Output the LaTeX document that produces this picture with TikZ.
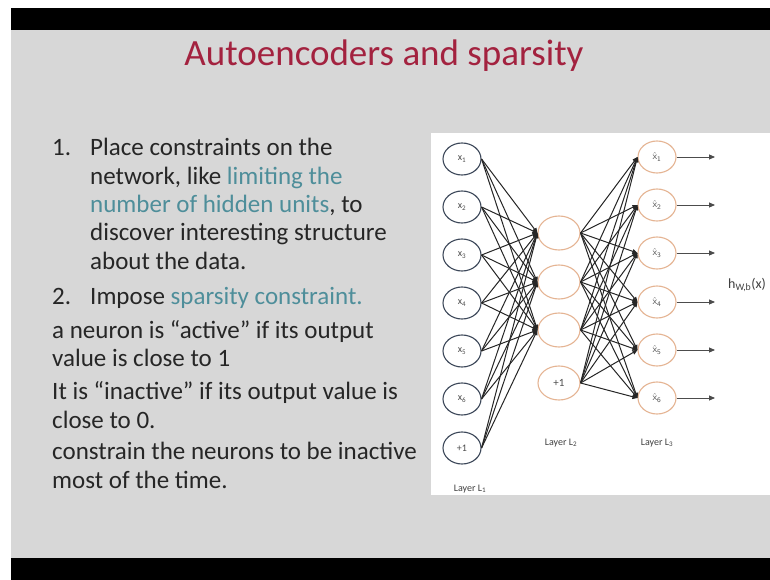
\documentclass[tikz,border=0pt]{standalone}
\usepackage{fontspec}
\setmainfont{Carlito}
\usetikzlibrary{arrows.meta,shapes.geometric}
\definecolor{slidegray}{HTML}{D7D7D7}
\definecolor{titlered}{HTML}{A3223F}
\definecolor{hlteal}{HTML}{4E8E9A}
\definecolor{bodytext}{HTML}{262626}
\definecolor{inblue}{HTML}{3C4759}
\definecolor{outorange}{HTML}{E5B493}
\tikzset{
  bodyline/.style={anchor=base west, inner sep=0pt, text=bodytext, font=\fontsize{25}{28}\selectfont},
  inode/.style={ellipse, draw=inblue, line width=1.1pt, minimum width=38pt, minimum height=32pt, inner sep=0pt, fill=white, font=\fontsize{10}{12}\selectfont, text=black!70},
  hnode/.style={ellipse, draw=outorange, line width=1.1pt, minimum width=42pt, minimum height=34pt, inner sep=0pt, fill=white, font=\fontsize{11}{12}\selectfont, text=black!70},
  onode/.style={ellipse, draw=outorange, line width=1.1pt, minimum width=38pt, minimum height=32pt, inner sep=0pt, fill=white, font=\fontsize{10}{12}\selectfont, text=black!70},
  conn/.style={draw=black!85, line width=1pt, -{Triangle[length=5pt,width=4.5pt]}},
  outarrow/.style={draw=black!70, line width=0.9pt, -{Triangle[length=6pt,width=5pt]}},
  layerlabel/.style={inner sep=0pt, font=\fontsize{10}{12}\selectfont, text=black!75}
}
\newcommand{\xhat}[1]{\(\hat{\mathsf{x}}_{\mathsf{#1}}\)}
\begin{document}
\begin{tikzpicture}[x=1pt,y=-1pt]
\useasboundingbox (0,0) rectangle (770,580);
\fill[white] (0,0) rectangle (770,580);
\fill[black] (11,8) rectangle (770,30);
\fill[slidegray] (11,30) rectangle (770,558);
\fill[black] (11,558) rectangle (770,580);
\fill[white] (431,133) rectangle (770,495);

% title
\node[anchor=base, inner sep=0pt, text=titlered, font=\fontsize{37}{40}\selectfont] (title) at (384,66) {Autoencoders and sparsity};

% body text
\node[bodyline] (n1) at (52,156) {1.};
\node[bodyline] (l1) at (90,156) {Place constraints on the};
\node[bodyline] (l2) at (90,184) {network, like \textcolor{hlteal}{limiting the}};
\node[bodyline] (l3) at (90,212) {\textcolor{hlteal}{number of hidden units}, to};
\node[bodyline] (l4) at (90,240) {discover interesting structure};
\node[bodyline] (l5) at (90,269) {about the data.};
\node[bodyline] (n2) at (52,304) {2.};
\node[bodyline] (l6) at (90,304) {Impose \textcolor{hlteal}{sparsity constraint.}};
\node[bodyline] (l7) at (52,338) {a neuron is “active” if its output};
\node[bodyline] (l8) at (52,366) {value is close to 1};
\node[bodyline] (l9) at (52,399) {It is “inactive” if its output value is};
\node[bodyline] (l10) at (52,428) {close to 0.};
\node[bodyline] (l11) at (52,459) {constrain the neurons to be inactive};
\node[bodyline] (l12) at (52,488) {most of the time.};

% layer 1
\node[inode] (a1) at (462,159) {x\textsubscript{1}};
\node[inode] (a2) at (462,207) {x\textsubscript{2}};
\node[inode] (a3) at (462,255) {x\textsubscript{3}};
\node[inode] (a4) at (462,303) {x\textsubscript{4}};
\node[inode] (a5) at (462,351) {x\textsubscript{5}};
\node[inode] (a6) at (462,399) {x\textsubscript{6}};
\node[inode] (a7) at (462,448) {+1};

% layer 2
\node[hnode] (h1) at (559,233) {};
\node[hnode] (h2) at (559,282) {};
\node[hnode] (h3) at (559,330) {};
\node[hnode] (h4) at (559,383) {+1};

% layer 3
\node[onode] (o1) at (657,157) {\xhat{1}};
\node[onode] (o2) at (657,205) {\xhat{2}};
\node[onode] (o3) at (657,253) {\xhat{3}};
\node[onode] (o4) at (657,302) {\xhat{4}};
\node[onode] (o5) at (657,350) {\xhat{5}};
\node[onode] (o6) at (657,398) {\xhat{6}};

% connections
\foreach \i in {1,...,7} \foreach \j in {1,2,3} \draw[conn] (a\i.east) -- (h\j.west);
\foreach \i in {1,...,4} \foreach \j in {1,...,6} \draw[conn] (h\i.east) -- (o\j.west);

% outputs
\coordinate (e1) at (715,157);
\coordinate (e2) at (715,205);
\coordinate (e3) at (715,253);
\coordinate (e4) at (715,302);
\coordinate (e5) at (715,350);
\coordinate (e6) at (715,398);
\foreach \j in {1,...,6} \draw[outarrow] (o\j.east) -- (e\j);

\node[layerlabel, anchor=west, font=\fontsize{14}{16}\selectfont] (hw) at (728,285) {h\textsubscript{W,b}(x)};

% layer labels
\node[layerlabel] (ll1) at (470,489) {Layer L\textsubscript{1}};
\node[layerlabel] (ll2) at (561,443) {Layer L\textsubscript{2}};
\node[layerlabel] (ll3) at (657,443) {Layer L\textsubscript{3}};
\end{tikzpicture}
\end{document}
